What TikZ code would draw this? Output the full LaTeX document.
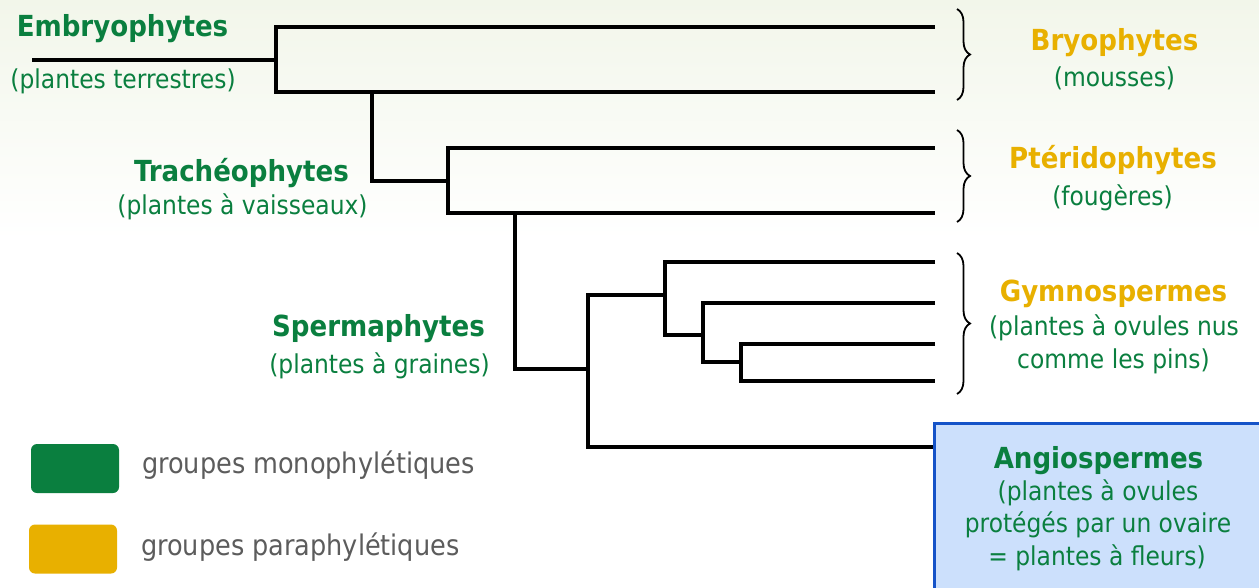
\documentclass[tikz,border=0pt]{standalone}
\usepackage{fontspec}
\setmainfont{DejaVu Sans Condensed}
\usetikzlibrary{decorations.pathreplacing}

\definecolor{clgreen}{HTML}{0A7F3F}
\definecolor{clyellow}{HTML}{E8B000}
\definecolor{clgray}{HTML}{5C5C5C}
\definecolor{boxfill}{HTML}{CCE0FC}
\definecolor{boxline}{HTML}{1553C8}
\definecolor{bgtop}{HTML}{F2F6EA}

\begin{document}
\begin{tikzpicture}[x=1pt,y=-1pt,
  branch/.style={line width=3.4pt, line join=miter},
  grouptitle/.style={font=\bfseries\fontsize{29}{34}\selectfont, inner sep=0pt, anchor=base},
  groupnote/.style={font=\fontsize{26}{30}\selectfont, inner sep=0pt, anchor=base, text=clgreen},
  legendtext/.style={font=\fontsize{28.4}{32}\selectfont, inner sep=0pt, anchor=base west, text=clgray},
  legendbox/.style={rounded corners=6pt, minimum width=88pt, minimum height=49pt, inner sep=0pt},
  groupbrace/.style={line width=1.8pt, decorate, decoration={brace, amplitude=13pt}},
]
% canvas and soft background
\useasboundingbox (0,0) rectangle (1259,587);
\fill[white] (0,0) rectangle (1259,587);
\shade[top color=bgtop, bottom color=white] (0,0) rectangle (1259,240);

% Angiospermes box
\node[draw=boxline, fill=boxfill, line width=3pt, minimum width=335pt, minimum height=170pt,
      inner sep=0pt, anchor=north west] (angio) at (933,422) {};

% tree coordinates
\coordinate (r0) at (32,60);
\coordinate (n1) at (276,60);
\coordinate (l1) at (935,27);
\coordinate (l2) at (935,92);
\coordinate (a2) at (372,92);
\coordinate (n2) at (448,181);
\coordinate (l3) at (935,148);
\coordinate (l4) at (935,213);
\coordinate (a3) at (515,213);
\coordinate (n3) at (588,369);
\coordinate (n4) at (665,295);
\coordinate (l5) at (935,262);
\coordinate (n5) at (703,335);
\coordinate (l6) at (935,303);
\coordinate (n6) at (741,362);
\coordinate (l7) at (935,344);
\coordinate (l8) at (935,381);
\coordinate (aw) at (angio.west |- 0,447);

% cladogram
\draw[branch] (r0) -- (n1);
\draw[branch] (l1) -| (n1) |- (l2);
\draw[branch] (a2) |- (n2);
\draw[branch] (l3) -| (n2) |- (l4);
\draw[branch] (a3) |- (n3);
\draw[branch] (n4) -| (n3) |- (aw);
\draw[branch] (l5) -| (n4) |- (n5);
\draw[branch] (l6) -| (n5) |- (n6);
\draw[branch] (l7) -| (n6) |- (l8);

% braces
\coordinate (b1t) at (957,9);   \coordinate (b1b) at (957,100);
\coordinate (b2t) at (957,130); \coordinate (b2b) at (957,222);
\coordinate (b3t) at (957,253); \coordinate (b3b) at (957,394);
\draw[groupbrace] (b1t) -- (b1b);
\draw[groupbrace] (b2t) -- (b2b);
\draw[groupbrace] (b3t) -- (b3b);

% left labels
\node[grouptitle, text=clgreen] (emb) at (122.5,36) {Embryophytes};
\node[groupnote] (embn) at (123,88) {(plantes terrestres)};
\node[grouptitle, text=clgreen] (trach) at (241.5,181) {Trachéophytes};
\node[groupnote] (trachn) at (242.5,214) {(plantes à vaisseaux)};
\node[grouptitle, text=clgreen] (sperm) at (378.5,336) {Spermaphytes};
\node[groupnote] (spermn) at (379.5,373) {(plantes à graines)};

% right labels
\node[grouptitle, text=clyellow] (bryo) at (1114.5,50) {Bryophytes};
\node[groupnote] (bryon) at (1114.5,86) {(mousses)};
\node[grouptitle, text=clyellow] (pter) at (1113,168) {Ptéridophytes};
\node[groupnote] (ptern) at (1112.5,205) {(fougères)};
\node[grouptitle, text=clyellow] (gymno) at (1113.5,301) {Gymnospermes};
\node[groupnote] (gymnoa) at (1114,335) {(plantes à ovules nus};
\node[groupnote] (gymnob) at (1113.5,368) {comme les pins)};
\node[grouptitle, text=clgreen] (angt) at (1098.5,468) {Angiospermes};
\node[groupnote] (anga) at (1098,500) {(plantes à ovules};
\node[groupnote] (angb) at (1098,532) {protégés par un ovaire};
\node[groupnote] (angc) at (1097,565) {= plantes à fleurs)};

% legend
\node[legendbox, fill=clgreen] (mono) at (75,468.5) {};
\node[legendbox, fill=clyellow] (para) at (73,549) {};
\node[legendtext] (monot) at (142,473) {groupes monophylétiques};
\node[legendtext] (parat) at (141,555) {groupes paraphylétiques};
\end{tikzpicture}
\end{document}
